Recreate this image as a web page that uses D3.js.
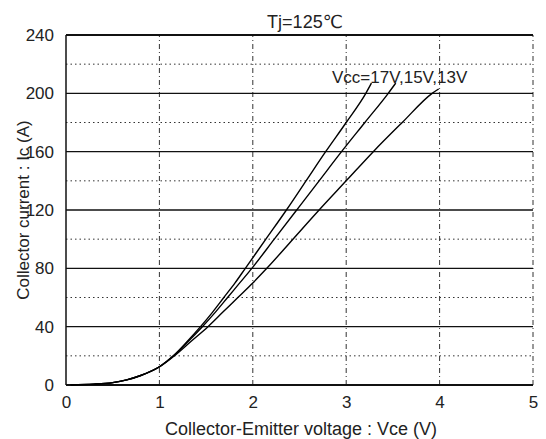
<!DOCTYPE html>
<html><head><meta charset="utf-8">
<script src="https://cdn.jsdelivr.net/npm/d3@7"></script>
<style>body{margin:0;background:#fff}svg{display:block}text{font-family:"Liberation Sans","DejaVu Sans",sans-serif;fill:#222}</style>
</head><body><div id="chart"></div>
<script>
const title = "Tj=125℃";
const xTitle = "Collector-Emitter voltage : Vce (V)";
const yTitle = "Collector current : Ic (A)";
const legendText = "Vcc=17V,15V,13V";
const xTicks = [0,1,2,3,4,5];
const yTicks = [0,40,80,120,160,200,240];
const yMinor = [20,60,100,140,180,220];
const seriesNames = ["17V","15V","13V"];
const vce17 = [0.05,0.3,0.5,0.65,0.8,1.0,1.15,1.3,1.44,1.57,1.69,1.81,1.92,2.14,2.36,2.57,2.78,3.0,3.21,3.27];
const ic17  = [0.2,0.6,1.6,3.5,6.5,12.5,20,30,40,50,60,70,80,100,120,140,160,180,200,207];
const vce15 = [0.05,0.3,0.5,0.65,0.8,1.0,1.15,1.31,1.46,1.60,1.73,1.86,1.99,2.23,2.47,2.71,2.95,3.2,3.45,3.53];
const ic15  = [0.2,0.6,1.6,3.5,6.5,12.5,20,30,40,50,60,70,80,100,120,140,160,180,200,207];
const vce13 = [0.05,0.3,0.5,0.65,0.8,1.0,1.16,1.34,1.52,1.68,1.84,2.0,2.15,2.43,2.71,3.0,3.29,3.60,3.92,3.99];
const ic13  = [0.2,0.6,1.6,3.5,6.5,12.4,20,30,40,50,60,70,80,100,120,140,160,180,200,203];

const W=546,H=439, m={l:66,r:13,t:35,b:54};
const svg=d3.select("#chart").append("svg").attr("width",W).attr("height",H);
const x=d3.scaleLinear().domain([0,5]).range([m.l,W-m.r]);
const y=d3.scaleLinear().domain([0,240]).range([H-m.b,m.t]);
const g=svg.append("g");

// minor dotted horizontal
g.selectAll(".hm").data(yMinor).join("line").attr("x1",x(0)).attr("x2",x(5))
 .attr("y1",d=>y(d)).attr("y2",d=>y(d)).attr("stroke","#333").attr("stroke-width",1).attr("stroke-dasharray","1.5,3");
// vertical dotted
g.selectAll(".vg").data([1,2,3,4,5]).join("line").attr("x1",d=>x(d)).attr("x2",d=>x(d))
 .attr("y1",y(0)).attr("y2",y(240)).attr("stroke","#333").attr("stroke-width",1).attr("stroke-dasharray","5,3,1,3");
// major solid horizontal
g.selectAll(".hM").data(yTicks).join("line").attr("x1",x(0)).attr("x2",x(5))
 .attr("y1",d=>y(d)).attr("y2",d=>y(d)).attr("stroke","#111").attr("stroke-width",d=>(d===0||d===240)?1.8:1.3);
// left frame
g.append("line").attr("x1",x(0)).attr("x2",x(0)).attr("y1",y(0)).attr("y2",y(240)).attr("stroke","#111").attr("stroke-width",1.5);

// axes (labels only)
const tickFont='"Liberation Sans Narrow","DejaVu Sans Condensed","Liberation Sans",sans-serif';
const xa=svg.append("g").attr("transform",`translate(0,${y(0)})`).call(d3.axisBottom(x).tickValues(xTicks).tickSize(0).tickPadding(11).tickFormat(d3.format("d")));
const ya=svg.append("g").attr("transform",`translate(${x(0)},0)`).call(d3.axisLeft(y).tickValues(yTicks).tickSize(0).tickPadding(12));
[xa,ya].forEach(a=>{a.select(".domain").remove();a.selectAll("text").attr("font-size",17).attr("fill","#222").attr("font-family",tickFont);});

// curves
const line=d3.line().x(d=>x(d[0])).y(d=>y(d[1])).curve(d3.curveMonotoneX);
const data=[d3.zip(vce17,ic17),d3.zip(vce15,ic15),d3.zip(vce13,ic13)];
g.selectAll(".curve").data(data).join("path").attr("d",line).attr("fill","none").attr("stroke","#000").attr("stroke-width",1.4);

// texts
svg.append("text").attr("x",305).attr("y",28).attr("text-anchor","middle").attr("font-size",18).text(title);
svg.append("text").attr("x",332).attr("y",83).attr("font-size",17).text(legendText);
svg.append("text").attr("x",301).attr("y",435).attr("text-anchor","middle").attr("font-size",18).text(xTitle);
svg.append("text").attr("transform",`translate(29,${(y(0)+y(240))/2}) rotate(-90)`).attr("text-anchor","middle").attr("font-size",17).text(yTitle);
</script></body></html>
